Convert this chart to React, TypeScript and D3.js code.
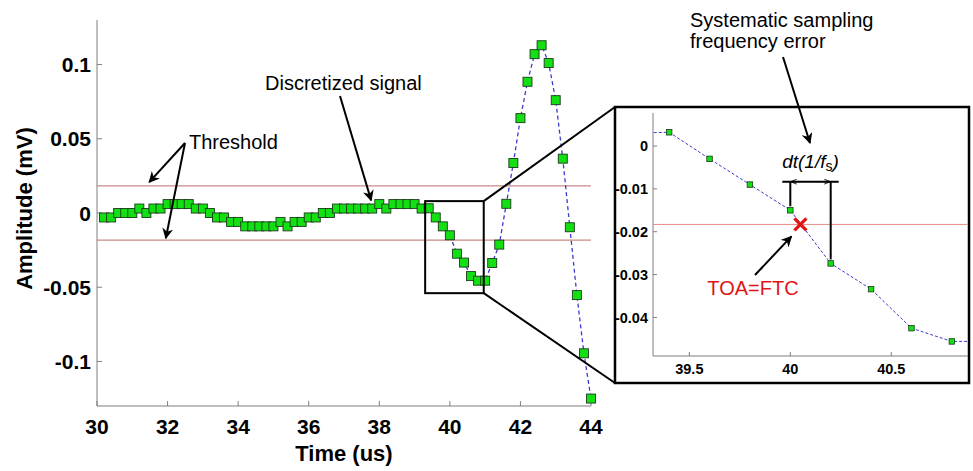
import React from 'react';
import * as d3 from 'd3';

// sample times (us) and amplitudes (mV)
const times = [
  30.2, 30.4, 30.6, 30.8, 31.0, 31.2, 31.4, 31.6, 31.8, 32.0,
  32.2, 32.4, 32.6, 32.8, 33.0, 33.2, 33.4, 33.6, 33.8, 34.0,
  34.2, 34.4, 34.6, 34.8, 35.0, 35.2, 35.4, 35.6, 35.8, 36.0,
  36.2, 36.4, 36.6, 36.8, 37.0, 37.2, 37.4, 37.6, 37.8, 38.0,
  38.2, 38.4, 38.6, 38.8, 39.0, 39.2, 39.4, 39.6, 39.8, 40.0,
  40.2, 40.4, 40.6, 40.8, 41.0, 41.2, 41.4, 41.6, 41.8, 42.0,
  42.2, 42.4, 42.6, 42.8, 43.0, 43.2, 43.4, 43.6, 43.8, 44.0,
];
const amplitudes = [
  -0.003, -0.003, 0, 0, 0, 0.003, 0, 0.003, 0.003, 0.006,
  0.006, 0.006, 0.006, 0.003, 0.003, 0, -0.003, -0.003, -0.006, -0.006,
  -0.009, -0.009, -0.009, -0.009, -0.009, -0.006, -0.009, -0.006, -0.006, -0.003,
  -0.003, 0, 0, 0.003, 0.003, 0.003, 0.003, 0.003, 0.003, 0.006,
  0.003, 0.006, 0.006, 0.006, 0.006, 0.003, 0.0032, -0.003, -0.009, -0.015,
  -0.0274, -0.0334, -0.0425, -0.0456, -0.0456, -0.0337, -0.0213, 0.0062, 0.0337, 0.0639,
  0.0884, 0.107, 0.113, 0.101, 0.076, 0.0366, -0.0096, -0.0553, -0.0945, -0.125,
];

const xTicks = [30, 32, 34, 36, 38, 40, 42, 44];
const yTicks = [-0.1, -0.05, 0, 0.05, 0.1];
const yTickLabels = ['-0.1', '-0.05', '0', '0.05', '0.1'];
const insetXTicks = [39.5, 40, 40.5];
const insetXTickLabels = ['39.5', '40', '40.5'];
const insetYTicks = [0, -0.01, -0.02, -0.03, -0.04];
const insetYTickLabels = ['0', '-0.01', '-0.02', '-0.03', '-0.04'];
const threshold = 0.0183;
const toaTime = 40.05;

const W = 973;
const H = 471;
const FONT = 'Liberation Sans, Arial, Helvetica, sans-serif';
const AXIS = '#7f7f7f';
const GREEN = '#12e012';
const LINE = '#3b3bd0';
const THRESH = '#c98a86';

export default function App() {
  const data = times.map((t, i) => ({ t, a: amplitudes[i] }));

  const x = d3.scaleLinear().domain([30, 44]).range([97, 591]);
  const y = d3.scaleLinear().domain([-0.13, 0.13]).range([406, 20]);

  const ix = d3.scaleLinear().domain([39.32, 40.88]).range([653, 968]);
  const iy = d3.scaleLinear().domain([-0.049, 0.0077]).range([356, 113]);

  const line = d3.line<any>().x((d) => x(d.t)).y((d) => y(d.a));
  const insetData = data.filter((d) => d.t >= 39.19 && d.t <= 41.01);
  const insetLine = d3.line<any>().x((d) => ix(d.t)).y((d) => iy(d.a));

  const m = 9; // main marker size
  const im = 5.5; // inset marker size

  const box = { x0: x(39.3), x1: x(40.96), y0: y(0.008), y1: y(-0.054) };
  const frame = { x0: 615, y0: 107, x1: 969, y1: 383 };

  const dtY = 181.7;
  const dtA = ix(40.0);
  const dtB = ix(40.2);

  return (
    <svg
      width={W}
      height={H}
      style={{ position: 'absolute', left: 0, top: 0, background: '#fff' }}
      fontFamily={FONT}
    >
      <defs>
        <marker id="ah" viewBox="0 0 10 10" refX="9" refY="5" markerWidth="5.5" markerHeight="5.5" orient="auto-start-reverse" markerUnits="strokeWidth">
          <path d="M0,0 L10,5 L0,10 L3,5 z" fill="#000" />
        </marker>
        <marker id="ahs" viewBox="0 0 10 10" refX="9" refY="5" markerWidth="6" markerHeight="6" orient="auto-start-reverse" markerUnits="userSpaceOnUse">
          <path d="M0,1 L10,5 L0,9" fill="none" stroke="#000" strokeWidth="1.5" />
        </marker>
        <clipPath id="insetClip">
          <rect x={653} y={108} width={315} height={250} />
        </clipPath>
      </defs>

      {/* main axes */}
      <line x1={x(30)} x2={x(30)} y1={20} y2={406} stroke={AXIS} />
      <line x1={x(30)} x2={x(44)} y1={406} y2={406} stroke={AXIS} />
      {yTicks.map((v, i) => (
        <g key={'yt' + i}>
          <line x1={x(30)} x2={x(30) + 5} y1={y(v)} y2={y(v)} stroke={AXIS} />
          <text x={91} y={y(v)} dy="0.36em" textAnchor="end" fontSize={21} fontWeight="bold">
            {yTickLabels[i]}
          </text>
        </g>
      ))}
      {xTicks.map((v) => (
        <g key={'xt' + v}>
          <line x1={x(v)} x2={x(v)} y1={406} y2={401} stroke={AXIS} />
          <text x={x(v)} y={434} textAnchor="middle" fontSize={21} fontWeight="bold">
            {v}
          </text>
        </g>
      ))}
      <text x={x(37)} y={461} textAnchor="middle" fontSize={22} fontWeight="bold">
        Time (us)
      </text>
      <text
        transform={`translate(32,${y(0.003)}) rotate(-90)`}
        textAnchor="middle"
        fontSize={22}
        fontWeight="bold"
      >
        Amplitude (mV)
      </text>

      {/* thresholds */}
      <line x1={x(30)} x2={x(44)} y1={y(threshold)} y2={y(threshold)} stroke={THRESH} strokeWidth={1.2} />
      <line x1={x(30)} x2={x(44)} y1={y(-threshold)} y2={y(-threshold)} stroke={THRESH} strokeWidth={1.2} />

      {/* signal */}
      <path d={line(data) || ''} fill="none" stroke={LINE} strokeWidth={1.3} strokeDasharray="4,3" />
      {data.map((d, i) => (
        <rect
          key={'m' + i}
          x={x(d.t) - m / 2}
          y={y(d.a) - m / 2}
          width={m}
          height={m}
          fill={GREEN}
          stroke="#1b3a1b"
          strokeWidth={0.9}
        />
      ))}

      {/* annotations main */}
      <text x={189} y={149} fontSize={20}>Threshold</text>
      <line x1={185} y1={143} x2={x(31.48)} y2={y(0.0208)} stroke="#000" strokeWidth={2} markerEnd="url(#ah)" />
      <line x1={185} y1={143} x2={x(31.95)} y2={y(-0.017)} stroke="#000" strokeWidth={2} markerEnd="url(#ah)" />
      <text x={265} y={90} fontSize={20}>Discretized signal</text>
      <line x1={340} y1={96} x2={x(37.77)} y2={y(0.0085)} stroke="#000" strokeWidth={2} markerEnd="url(#ah)" />

      {/* zoom box and connectors */}
      <rect x={box.x0} y={box.y0} width={box.x1 - box.x0} height={box.y1 - box.y0} fill="none" stroke="#000" strokeWidth={2} />
      <line x1={box.x1} y1={box.y0} x2={frame.x0} y2={frame.y0} stroke="#000" strokeWidth={2} />
      <line x1={box.x1} y1={box.y1} x2={frame.x0} y2={frame.y1} stroke="#000" strokeWidth={2} />

      {/* inset */}
      <rect x={frame.x0} y={frame.y0} width={frame.x1 - frame.x0} height={frame.y1 - frame.y0} fill="#fff" stroke="#000" strokeWidth={2.5} />
      <line x1={653} x2={653} y1={113} y2={356} stroke={AXIS} />
      <line x1={653} x2={968} y1={356} y2={356} stroke={AXIS} />
      {insetYTicks.map((v, i) => (
        <g key={'iyt' + i}>
          <line x1={653} x2={657} y1={iy(v)} y2={iy(v)} stroke={AXIS} />
          <text x={648} y={iy(v)} dy="0.36em" textAnchor="end" fontSize={14.5} fontWeight="bold">
            {insetYTickLabels[i]}
          </text>
        </g>
      ))}
      {insetXTicks.map((v, i) => (
        <g key={'ixt' + i}>
          <line x1={ix(v)} x2={ix(v)} y1={356} y2={352} stroke={AXIS} />
          <text x={ix(v)} y={374} textAnchor="middle" fontSize={14.5} fontWeight="bold">
            {insetXTickLabels[i]}
          </text>
        </g>
      ))}
      <line x1={653} x2={968} y1={iy(-threshold)} y2={iy(-threshold)} stroke="#e88a8a" strokeWidth={1} />
      <g clipPath="url(#insetClip)">
        <path d={insetLine(insetData) || ''} fill="none" stroke={LINE} strokeWidth={1} strokeDasharray="3,2" />
        {insetData.map((d, i) => (
          <rect
            key={'im' + i}
            x={ix(d.t) - im / 2}
            y={iy(d.a) - im / 2}
            width={im}
            height={im}
            fill={GREEN}
            stroke="#1b3a1b"
            strokeWidth={0.8}
          />
        ))}
      </g>

      {/* dt bracket */}
      <line x1={dtA} x2={dtA} y1={dtY} y2={iy(-0.015) - 4} stroke="#000" strokeWidth={2} />
      <line x1={dtB} x2={dtB} y1={dtY} y2={iy(-0.0274) - 4} stroke="#000" strokeWidth={2} />
      <line x1={dtA - 8} x2={dtB + 8} y1={dtY} y2={dtY} stroke="#000" strokeWidth={2} />
      <line x1={dtA + 8} x2={dtA + 1} y1={dtY} y2={dtY} stroke="#000" strokeWidth={1} markerEnd="url(#ahs)" />
      <line x1={dtB - 8} x2={dtB - 1} y1={dtY} y2={dtY} stroke="#000" strokeWidth={1} markerEnd="url(#ahs)" />
      <text x={(dtA + dtB) / 2} y={168} textAnchor="middle" fontSize={19} fontStyle="italic">
        dt(1/f<tspan fontSize={14} dy="3" fontStyle="normal">s</tspan><tspan dy="-3">)</tspan>
      </text>

      {/* TOA marker */}
      <g stroke="#e01515" strokeWidth={3.2} strokeLinecap="butt">
        <line x1={ix(toaTime) - 6} y1={iy(-threshold) - 6} x2={ix(toaTime) + 6} y2={iy(-threshold) + 6} />
        <line x1={ix(toaTime) - 6} y1={iy(-threshold) + 6} x2={ix(toaTime) + 6} y2={iy(-threshold) - 6} />
      </g>
      <line x1={755} y1={275} x2={ix(toaTime) - 9} y2={iy(-threshold) + 12} stroke="#000" strokeWidth={2} markerEnd="url(#ah)" />
      <text x={753} y={295} textAnchor="middle" fontSize={20} fill="#e01515">TOA=FTC</text>

      {/* systematic error annotation */}
      <text x={690} y={27} fontSize={20}>Systematic sampling</text>
      <text x={690} y={48} fontSize={20}>frequency error</text>
      <line x1={783} y1={57} x2={810} y2={143} stroke="#000" strokeWidth={2} markerEnd="url(#ah)" />
    </svg>
  );
}
